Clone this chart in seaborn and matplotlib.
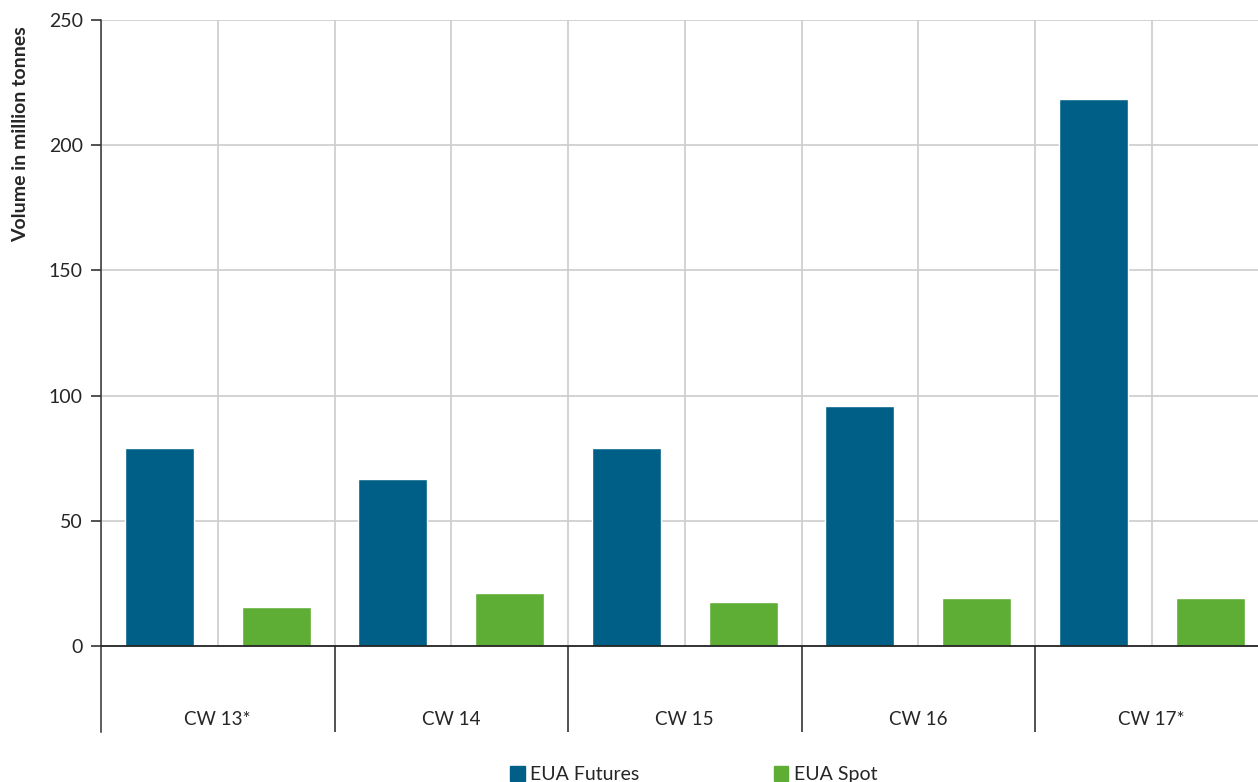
import numpy as np
import pandas as pd
import seaborn as sns
import matplotlib.pyplot as plt

# weekly EUA volumes (million tonnes)
weeks = ['CW 13*', 'CW 14', 'CW 15', 'CW 16', 'CW 17*']
futures = [79.1, 66.7, 79.1, 95.8, 218.5]
spot = [15.6, 21.2, 17.6, 19.2, 19.2]
series = ['EUA Futures', 'EUA Spot']
colors = ['#005F86', '#5EAD35']

df = pd.DataFrame({
    'week': weeks * 2,
    'series': [series[0]] * len(weeks) + [series[1]] * len(weeks),
    'volume': futures + spot,
})

sns.set_style('white')
plt.rcParams['font.family'] = ['Lato', 'DejaVu Sans']

fig = plt.figure(figsize=(12.58, 7.82), dpi=100)
ax = fig.add_axes([101 / 1258, 1 - 732 / 782, 1 - 101 / 1258, (732 - 20) / 782])

ymin, ymax = -34.3, 250
n = len(weeks)

# grid lines behind the bars
for y in range(50, 251, 50):
    ax.axhline(y, color='#cccccc', lw=1.2, zorder=0)
for k in range(n):
    ax.vlines([k - 0.5, k], 0, ymax, color='#cccccc', lw=1.2, zorder=0)
ax.vlines([k - 0.5 for k in range(1, n)], ymin, 0, color='#222222', lw=1.1, zorder=3)

sns.barplot(data=df, x='week', y='volume', hue='series', order=weeks,
            hue_order=series, palette=colors, width=1.0, gap=0.41,
            saturation=1, legend=False, ax=ax, zorder=2)

ax.axhline(0, color='#222222', lw=1.3, zorder=3)

ax.set_xlim(-0.5, (1258 - 101) / 233.5 - 0.5)
ax.set_ylim(ymin, ymax)
ax.set_yticks(range(0, 251, 50))
ax.tick_params(axis='y', left=True, length=7, width=1.1, color='#222222',
               labelsize=14, pad=6)
ax.tick_params(axis='x', length=0, labelsize=13.5, pad=-15)
ax.set_xlabel('')
ax.set_ylabel('Volume in million tonnes', fontsize=14, fontweight='bold')
ax.yaxis.set_label_coords(-0.062, 0.84)

for side in ['top', 'right', 'bottom']:
    ax.spines[side].set_visible(False)
ax.spines['left'].set_color('#333333')
ax.spines['left'].set_linewidth(1.1)

handles = [plt.Rectangle((0, 0), 1, 1, color=c) for c in colors]
fig.legend(handles, series, loc='lower center', bbox_to_anchor=(0.5516, -0.024),
           ncol=2, frameon=False, fontsize=14, handlelength=0.75,
           handleheight=0.75, handletextpad=0.3, columnspacing=6.9)

fig.savefig('out.png', dpi=100)
